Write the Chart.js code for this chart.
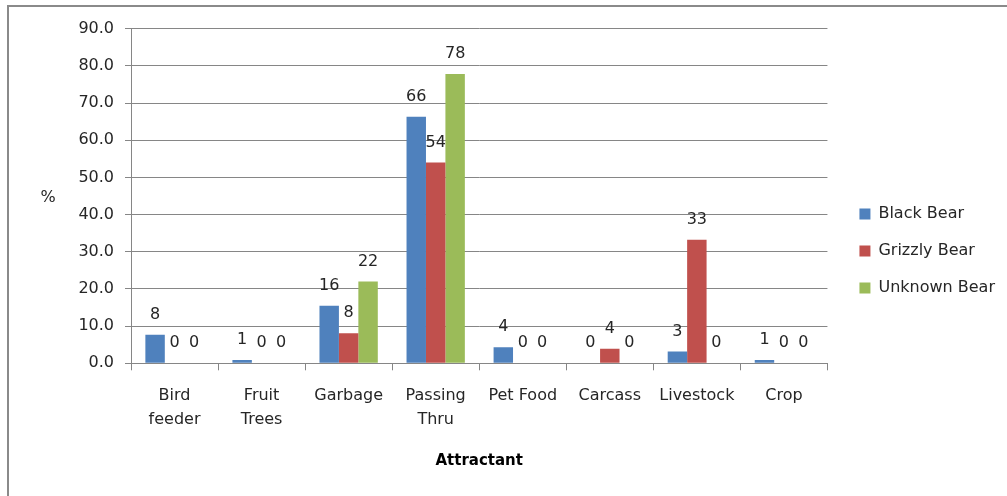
<!DOCTYPE html>
<html>
<head>
<meta charset="utf-8">
<script src="https://cdn.jsdelivr.net/npm/chart.js@4.4.1/dist/chart.umd.min.js"></script>
<style>
  html, body { margin: 0; padding: 0; background: #ffffff; }
  #wrap { width: 1007px; height: 496px; position: relative; }
</style>
</head>
<body>
<div id="wrap"><canvas id="chart" width="1007" height="496"></canvas></div>
<script>
// Attractant categories (x axis)
const categories = [
  ['Bird', 'feeder'],
  ['Fruit', 'Trees'],
  'Garbage',
  ['Passing', 'Thru'],
  'Pet Food',
  'Carcass',
  'Livestock',
  'Crop'
];

// Percentage of incidents per bear type
const blackBear   = [7.7, 0.9, 15.5, 66.3, 4.3, 0, 3.2, 0.9];
const grizzlyBear = [0, 0, 8.1, 54.0, 0, 3.9, 33.2, 0];
const unknownBear = [0, 0, 22.0, 77.8, 0, 0, 0, 0];

const seriesNames = ['Black Bear', 'Grizzly Bear', 'Unknown Bear'];
const seriesColors = ['#4F81BD', '#C0504D', '#9BBB59'];

const yMin = 0;
const yMax = 90;
const yStep = 10;

const FONT = '"DejaVu Sans", sans-serif';
const TEXT = '#262626';
const GRID = '#868686';

// Value labels above each bar, plus the outer frame and the "%" axis caption
const decorations = {
  id: 'decorations',
  beforeDraw(chart) {
    const ctx = chart.ctx;
    ctx.save();
    ctx.fillStyle = '#ffffff';
    ctx.fillRect(0, 0, chart.width, chart.height);
    ctx.fillStyle = '#8a8a8a';
    ctx.fillRect(7, 5, 2, chart.height - 5);
    ctx.fillRect(7, 5, chart.width - 7, 2);
    ctx.restore();
  },
  afterDatasetsDraw(chart) {
    const ctx = chart.ctx;
    ctx.save();
    ctx.font = '16px ' + FONT;
    ctx.fillStyle = TEXT;
    ctx.textAlign = 'center';
    ctx.textBaseline = 'middle';
    chart.data.datasets.forEach((ds, di) => {
      const meta = chart.getDatasetMeta(di);
      meta.data.forEach((bar, i) => {
        const v = ds.data[i];
        ctx.fillText(String(Math.round(v)), bar.x, bar.y - 20);
      });
    });
    const area = chart.chartArea;
    ctx.fillText('%', 48, (area.top + area.bottom) / 2 + 2);
    ctx.restore();
  }
};

new Chart(document.getElementById('chart'), {
  type: 'bar',
  data: {
    labels: categories,
    datasets: [
      { label: seriesNames[0], data: blackBear,   backgroundColor: seriesColors[0] },
      { label: seriesNames[1], data: grizzlyBear, backgroundColor: seriesColors[1] },
      { label: seriesNames[2], data: unknownBear, backgroundColor: seriesColors[2] }
    ]
  },
  options: {
    responsive: false,
    animation: false,
    devicePixelRatio: 1,
    layout: { padding: { top: 28.7, right: 2, bottom: 22.7, left: 0 } },
    datasets: {
      bar: { categoryPercentage: 0.67, barPercentage: 1.0 }
    },
    scales: {
      x: {
        grid: {
          display: true,
          offset: true,
          drawOnChartArea: false,
          drawTicks: true,
          tickLength: 7,
          color: GRID
        },
        border: { display: true, color: GRID, width: 1 },
        ticks: {
          color: TEXT,
          font: { family: FONT, size: 16, lineHeight: 1.5 },
          padding: 14,
          maxRotation: 0,
          autoSkip: false
        },
        title: {
          display: true,
          text: 'Attractant',
          color: '#000000',
          font: { family: FONT, size: 15, weight: 'bold', lineHeight: 1.2 },
          padding: { top: 0, bottom: 3.3 }
        },
        afterFit(scale) { scale.height = 110; }
      },
      y: {
        min: yMin,
        max: yMax,
        grid: {
          color: GRID,
          drawTicks: true,
          tickLength: 6
        },
        border: { display: true, color: GRID, width: 1 },
        ticks: {
          stepSize: yStep,
          color: TEXT,
          font: { family: FONT, size: 16 },
          padding: 11,
          callback: (v) => Number(v).toFixed(1)
        },
        afterFit(scale) { scale.width = 131; }
      },
      gap: {
        position: 'right',
        display: true,
        grid: { display: false },
        border: { display: false },
        ticks: { display: false },
        afterFit(scale) { scale.width = 11; }
      }
    },
    plugins: {
      legend: {
        display: true,
        position: 'right',
        align: 'center',
        labels: {
          boxWidth: 11,
          boxHeight: 11,
          padding: 21,
          color: TEXT,
          font: { family: FONT, size: 16 }
        }
      },
      tooltip: { enabled: false }
    }
  },
  plugins: [decorations]
});
</script>
</body>
</html>
